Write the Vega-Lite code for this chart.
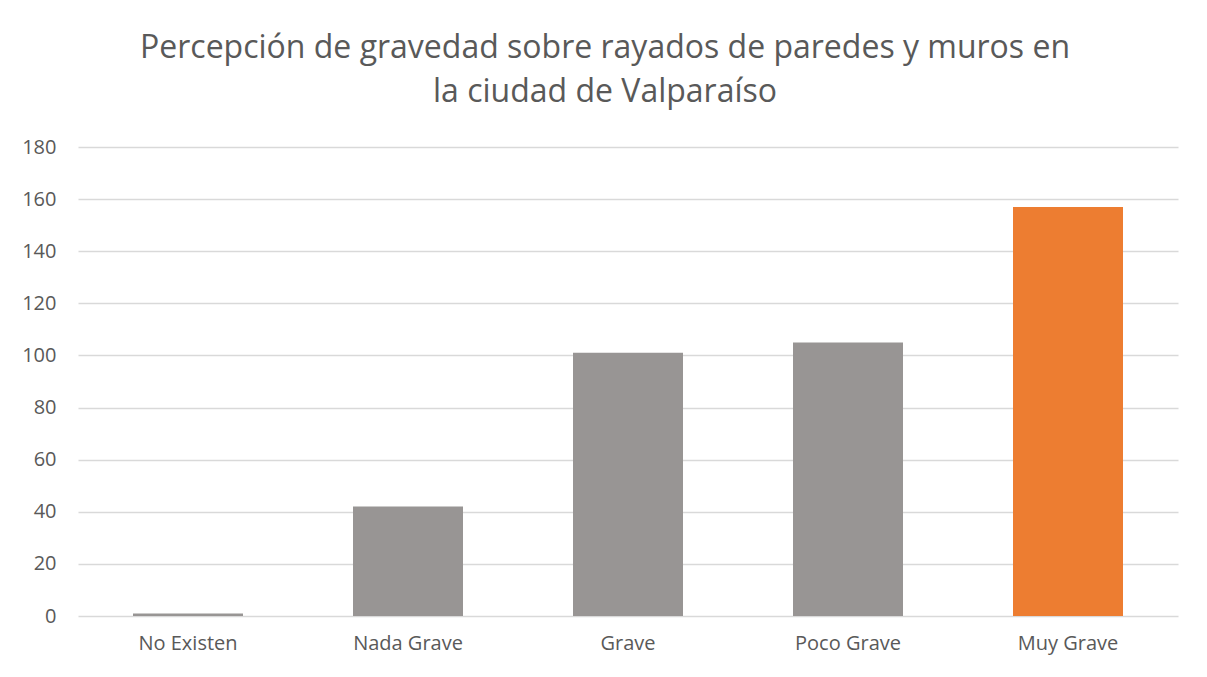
{
  "$schema": "https://vega.github.io/schema/vega-lite/v6.json",
  "autosize": {"type": "none"},
  "width": 1100,
  "height": 469,
  "padding": {"left": 78, "top": 147, "right": 29, "bottom": 61},
  "background": "white",
  "title": {
    "text": ["Percepción de gravedad sobre rayados de paredes y muros en", "la ciudad de Valparaíso"],
    "font": "Open Sans",
    "fontSize": 32,
    "fontWeight": "normal",
    "color": "#595959",
    "anchor": "middle",
    "frame": "group",
    "lineHeight": 44,
    "dx": -23,
    "offset": 28
  },
  "data": {
    "values": [
      {"categoria": "No Existen", "valor": 1},
      {"categoria": "Nada Grave", "valor": 42},
      {"categoria": "Grave", "valor": 101},
      {"categoria": "Poco Grave", "valor": 105},
      {"categoria": "Muy Grave", "valor": 157}
    ]
  },
  "mark": {"type": "bar"},
  "encoding": {
    "x": {
      "field": "categoria",
      "type": "nominal",
      "sort": null,
      "scale": {"paddingInner": 0.5, "paddingOuter": 0.25},
      "axis": {
        "title": null,
        "labelAngle": 0,
        "labelFont": "Open Sans",
        "labelFontSize": 20,
        "labelColor": "#595959",
        "labelPadding": 17,
        "ticks": false,
        "domain": false,
        "grid": false
      }
    },
    "y": {
      "field": "valor",
      "type": "quantitative",
      "scale": {"domain": [0, 180], "nice": false},
      "axis": {
        "title": null,
        "values": [0, 20, 40, 60, 80, 100, 120, 140, 160, 180],
        "labelFont": "Open Sans",
        "labelFontSize": 20,
        "labelColor": "#595959",
        "labelPadding": 22,
        "ticks": false,
        "domain": false,
        "grid": true,
        "gridColor": "#d9d9d9",
        "gridWidth": 1.5
      }
    },
    "color": {
      "field": "categoria",
      "type": "nominal",
      "scale": {
        "domain": ["No Existen", "Nada Grave", "Grave", "Poco Grave", "Muy Grave"],
        "range": ["#989594", "#989594", "#989594", "#989594", "#ED7D31"]
      },
      "legend": null
    }
  },
  "config": {"view": {"stroke": null}}
}
